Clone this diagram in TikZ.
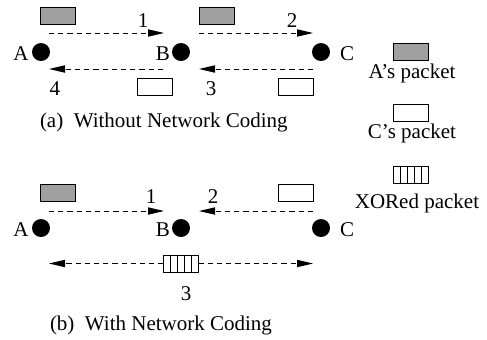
\documentclass[tikz,border=0pt]{standalone}
\usepackage{fontspec}
\setmainfont{Liberation Serif}
\usetikzlibrary{arrows.meta,calc}
\definecolor{pktgray}{RGB}{160,160,160}
\begin{document}
\begin{tikzpicture}[x=0.5pt,y=-0.5pt,
  every node/.style={font=\fontsize{10.5}{12}\selectfont, inner sep=0pt, outer sep=0pt},
  txt/.style={anchor=base},
  dot/.style={circle,fill=black,minimum size=9pt,inner sep=0pt},
  pkt/.style={draw=black,line width=0.5pt,minimum width=17.5pt,minimum height=8.5pt,inner sep=0pt},
  apkt/.style={pkt,fill=pktgray},
  cpkt/.style={pkt,fill=white},
  xpkt/.style={pkt,fill=white,path picture={
    \foreach \i in {1,2,3,4}{
      \draw[line width=0.5pt] ($(path picture bounding box.north west)!\i/5!(path picture bounding box.north east)$) --
        ($(path picture bounding box.south west)!\i/5!(path picture bounding box.south east)$);}}},
  flow/.style={dash pattern=on 2.6pt off 2pt, line width=0.5pt,-{Triangle[length=8pt,width=3.6pt]}},
]
\path[use as bounding box] (0,0) rectangle (487,339);

% ---------- (a) without network coding ----------
\node[dot] (A1) at (41,52) {};
\node[dot] (B1) at (181,52) {};
\node[dot] (C1) at (321,52) {};
\node[txt] (lA1) at (21,60) {A};
\node[txt] (lB1) at (163,60) {B};
\node[txt] (lC1) at (347,60) {C};

\node[apkt] (pa1) at (58,16) {};
\node[apkt] (pa2) at (217,16) {};
\node[cpkt] (pc1) at (154.5,86.5) {};
\node[cpkt] (pc2) at (295.5,86.5) {};

\coordinate (t1s) at (49,33);  \coordinate (t1e) at (164,33);
\coordinate (t2s) at (199,33); \coordinate (t2e) at (313,33);
\coordinate (t3s) at (313,69); \coordinate (t3e) at (199,69);
\coordinate (t4s) at (163,69); \coordinate (t4e) at (49,69);
\draw[flow] (t1s) -- (t1e);
\draw[flow] (t2s) -- (t2e);
\draw[flow] (t3s) -- (t3e);
\draw[flow] (t4s) -- (t4e);

\node[txt] (n1) at (143,27) {1};
\node[txt] (n2) at (292,27) {2};
\node[txt] (n3) at (211,95) {3};
\node[txt] (n4) at (55,95) {4};

\node[anchor=base west] (capa) at (40,127) {(a)\ \ Without Network Coding};

% ---------- legend ----------
\node[apkt] (la) at (410.5,51.5) {};
\node[txt] (lat) at (412,78) {A's packet};
\node[cpkt] (lc) at (410.5,113) {};
\node[txt] (lct) at (412,138) {C's packet};
\node[xpkt] (lx) at (410.5,175) {};
\node[txt] (lxt) at (417,208) {XORed packet};

% ---------- (b) with network coding ----------
\node[dot] (A2) at (41,228) {};
\node[dot] (B2) at (181,228) {};
\node[dot] (C2) at (321,228) {};
\node[txt] (lA2) at (21,236) {A};
\node[txt] (lB2) at (163,236) {B};
\node[txt] (lC2) at (347,236) {C};

\node[apkt] (pb1) at (58,192.5) {};
\node[cpkt] (pb2) at (295.5,192.5) {};
\node[xpkt] (px) at (181,263.5) {};

\coordinate (b1s) at (49,211);  \coordinate (b1e) at (164,211);
\coordinate (b2s) at (313,211); \coordinate (b2e) at (199,211);
\coordinate (b3l) at (49,263.5); \coordinate (b3r) at (313,263.5);
\draw[flow] (b1s) -- (b1e);
\draw[flow] (b2s) -- (b2e);
\draw[flow] (px.west) -- (b3l);
\draw[flow] (px.east) -- (b3r);

\node[txt] (m1) at (151,203) {1};
\node[txt] (m2) at (213,203) {2};
\node[txt] (m3) at (186,300) {3};

\node[anchor=base west] (capb) at (50,330) {(b)\ \ With Network Coding};
\end{tikzpicture}
\end{document}
